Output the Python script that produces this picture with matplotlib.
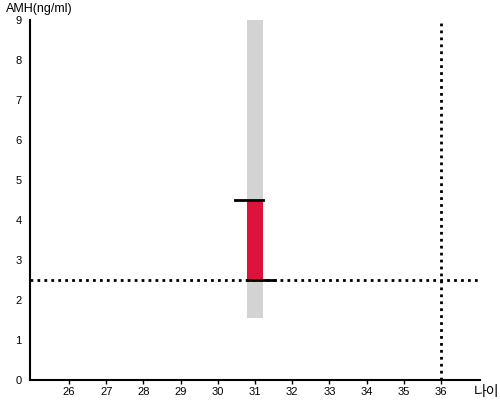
import matplotlib
matplotlib.use("Agg")
import matplotlib.pyplot as plt

plt.rcParams['font.family'] = ['Liberation Sans', 'Noto Sans CJK KR', 'DejaVu Sans']

# data
ages = [31]
amh_low = [2.5]
amh_high = [4.5]
range_low = [1.55]
range_high = [9.0]
ref_amh = 2.5
ref_age = 36
xticks = list(range(26, 37))
yticks = list(range(0, 10))

fig = plt.figure(figsize=(5, 4), dpi=100)
ax = fig.add_axes([0.06, 0.05, 0.90, 0.90])
ax.set_xlim(24.95, 37.05)
ax.set_ylim(0, 9)

w = 0.43
for a, lo, hi, rl, rh in zip(ages, amh_low, amh_high, range_low, range_high):
    ax.bar(a, rh - rl, bottom=rl, width=w, color='#d3d3d3', zorder=1)
    ax.bar(a, hi - lo, bottom=lo, width=w, color='#dc143c', zorder=2)
    ax.plot([a - w / 2 - 0.32, a + w / 2], [hi, hi], color='black', lw=2, zorder=4)
    ax.plot([a - w / 2, a + w / 2 + 0.32], [lo, lo], color='black', lw=2, zorder=4)

ax.axhline(ref_amh, color='black', lw=2, ls=(0, (1, 1.5)), zorder=3)
ax.axvline(ref_age, color='black', lw=2, ls=(0, (1, 1.5)), zorder=3)

ax.spines['top'].set_visible(False)
ax.spines['right'].set_visible(False)
ax.spines['left'].set_linewidth(1.5)
ax.spines['bottom'].set_linewidth(1.5)
ax.set_xticks(xticks)
ax.set_yticks(yticks)
ax.tick_params(axis='y', length=0, labelsize=8, pad=6)
ax.tick_params(axis='x', length=3, width=1, labelsize=8, pad=2)

fig.text(0.012, 0.962, 'AMH(ng/ml)', fontsize=9, ha='left', va='bottom')
fig.text(0.948, 0.02, '나이', fontsize=10, ha='left', va='center', family=['Noto Sans CJK KR', 'DejaVu Sans'])

fig.savefig('out.png', dpi=100)
